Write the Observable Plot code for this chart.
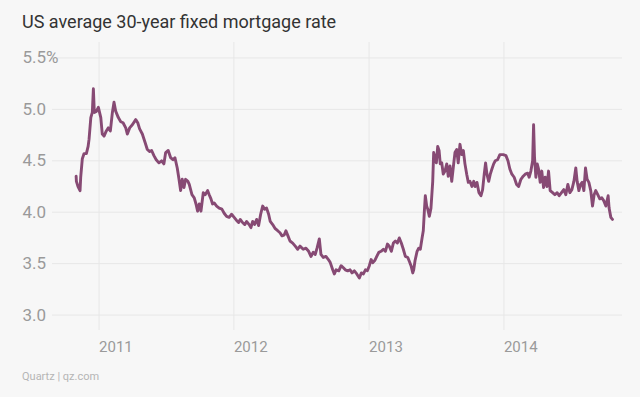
<!DOCTYPE html>
<html>
<head>
<meta charset="utf-8">
<script src="https://cdn.jsdelivr.net/npm/d3@7"></script>
<script src="https://cdn.jsdelivr.net/npm/@observablehq/plot@0.6"></script>
<style>
  html, body { margin: 0; padding: 0; background: #f7f7f7; }
  body { width: 640px; height: 397px; overflow: hidden; font-family: Roboto, "Noto Sans", sans-serif; }
  #title { height: 37px; padding: 3px 0 0 22px; line-height: 37px; font-size: 18px; color: #333; }
  #caption { height: 34px; line-height: 34px; padding-left: 22px; font-size: 11px; color: #b5b5b5; }
  #chart svg { display: block; }
</style>
</head>
<body>
<div id="title">US average 30-year fixed mortgage rate</div>
<div id="chart"></div>
<div id="caption">Quartz | qz.com</div>
<script>
// Time as decimal years
const times = [
  2010.830, 2010.832, 2010.844, 2010.859, 2010.864, 2010.876, 2010.889, 2010.906, 2010.919, 2010.926,
  2010.939, 2010.950, 2010.958, 2010.965, 2010.980, 2010.995, 2011.013, 2011.024, 2011.037, 2011.054,
  2011.069, 2011.084, 2011.099, 2011.111, 2011.124, 2011.143, 2011.161, 2011.178, 2011.198, 2011.210,
  2011.227, 2011.247, 2011.272, 2011.287, 2011.301, 2011.321, 2011.341, 2011.358, 2011.376, 2011.390,
  2011.407, 2011.424, 2011.444, 2011.464, 2011.481, 2011.494, 2011.513, 2011.531, 2011.548, 2011.563,
  2011.580, 2011.593, 2011.605, 2011.617, 2011.630, 2011.642, 2011.659, 2011.669, 2011.689, 2011.706,
  2011.719, 2011.731, 2011.743, 2011.756, 2011.773, 2011.787, 2011.805, 2011.817, 2011.830, 2011.842,
  2011.854, 2011.872, 2011.891, 2011.911, 2011.928, 2011.946, 2011.965, 2011.983, 2012.002, 2012.020,
  2012.035, 2012.047, 2012.064, 2012.081, 2012.094, 2012.113, 2012.126, 2012.139, 2012.153, 2012.168,
  2012.183, 2012.198, 2012.213, 2012.227, 2012.242, 2012.257, 2012.269, 2012.287, 2012.306, 2012.324,
  2012.341, 2012.356, 2012.373, 2012.385, 2012.400, 2012.415, 2012.435, 2012.454, 2012.472, 2012.489,
  2012.513, 2012.533, 2012.553, 2012.570, 2012.587, 2012.602, 2012.615, 2012.632, 2012.644, 2012.661,
  2012.681, 2012.699, 2012.713, 2012.731, 2012.743, 2012.756, 2012.776, 2012.793, 2012.810, 2012.824,
  2012.842, 2012.859, 2012.874, 2012.891, 2012.909, 2012.928, 2012.943, 2012.958, 2012.973, 2012.987,
  2013.002, 2013.015, 2013.027, 2013.042, 2013.057, 2013.072, 2013.089, 2013.106, 2013.121, 2013.136,
  2013.150, 2013.165, 2013.180, 2013.195, 2013.210, 2013.224, 2013.239, 2013.254, 2013.269, 2013.287,
  2013.299, 2013.311, 2013.324, 2013.331, 2013.341, 2013.356, 2013.368, 2013.380, 2013.393, 2013.402,
  2013.410, 2013.417, 2013.427, 2013.435, 2013.447, 2013.459, 2013.472, 2013.479, 2013.489, 2013.499,
  2013.509, 2013.519, 2013.528, 2013.539, 2013.550, 2013.563, 2013.576, 2013.587, 2013.600, 2013.613,
  2013.624, 2013.637, 2013.650, 2013.661, 2013.674, 2013.687, 2013.699, 2013.711, 2013.724, 2013.736,
  2013.748, 2013.763, 2013.776, 2013.787, 2013.800, 2013.815, 2013.830, 2013.842, 2013.854, 2013.864,
  2013.874, 2013.887, 2013.899, 2013.911, 2013.924, 2013.936, 2013.953, 2013.970, 2013.995, 2014.015,
  2014.030, 2014.044, 2014.059, 2014.076, 2014.094, 2014.109, 2014.126, 2014.143, 2014.158, 2014.176,
  2014.187, 2014.200, 2014.213, 2014.220, 2014.227, 2014.237, 2014.247, 2014.257, 2014.269, 2014.281,
  2014.294, 2014.306, 2014.319, 2014.331, 2014.343, 2014.361, 2014.378, 2014.395, 2014.410, 2014.427,
  2014.444, 2014.459, 2014.474, 2014.489, 2014.504, 2014.519, 2014.533, 2014.543, 2014.556, 2014.568,
  2014.580, 2014.593, 2014.605, 2014.617, 2014.630, 2014.644, 2014.657, 2014.669, 2014.681, 2014.696,
  2014.711, 2014.726, 2014.741, 2014.756, 2014.773, 2014.780, 2014.793, 2014.805
];
// Rate (%) at each time
const rates = [
  4.35, 4.30, 4.25, 4.21, 4.34, 4.52, 4.57, 4.57, 4.64, 4.71,
  4.92, 4.97, 5.20, 4.97, 4.98, 5.02, 4.92, 4.76, 4.74, 4.79,
  4.82, 4.79, 4.97, 5.07, 4.98, 4.92, 4.88, 4.87, 4.82, 4.76,
  4.82, 4.85, 4.90, 4.87, 4.81, 4.76, 4.68, 4.61, 4.59, 4.60,
  4.55, 4.51, 4.48, 4.50, 4.47, 4.58, 4.60, 4.53, 4.51, 4.53,
  4.43, 4.32, 4.21, 4.32, 4.24, 4.32, 4.30, 4.27, 4.17, 4.14,
  4.08, 4.01, 4.08, 4.01, 4.19, 4.17, 4.21, 4.17, 4.13, 4.08,
  4.09, 4.06, 4.04, 4.03, 3.99, 3.96, 3.95, 3.98, 3.95, 3.92,
  3.90, 3.93, 3.90, 3.88, 3.91, 3.88, 3.85, 3.91, 3.88, 3.93,
  3.87, 3.98, 4.06, 4.03, 4.04, 3.98, 3.91, 3.88, 3.84, 3.82,
  3.80, 3.77, 3.78, 3.82, 3.77, 3.72, 3.70, 3.67, 3.64, 3.67,
  3.64, 3.65, 3.62, 3.57, 3.61, 3.59, 3.65, 3.74, 3.59, 3.56,
  3.57, 3.54, 3.51, 3.44, 3.40, 3.44, 3.43, 3.48, 3.46, 3.44,
  3.43, 3.44, 3.41, 3.43, 3.40, 3.36, 3.41, 3.40, 3.44, 3.43,
  3.48, 3.54, 3.51, 3.53, 3.57, 3.61, 3.62, 3.64, 3.62, 3.69,
  3.67, 3.62, 3.70, 3.72, 3.70, 3.75, 3.70, 3.64, 3.57, 3.56,
  3.52, 3.48, 3.41, 3.44, 3.53, 3.62, 3.65, 3.64, 3.75, 3.82,
  4.01, 4.16, 4.06, 4.03, 3.96, 4.04, 4.30, 4.58, 4.53, 4.48,
  4.64, 4.60, 4.47, 4.48, 4.37, 4.40, 4.47, 4.35, 4.45, 4.30,
  4.43, 4.58, 4.61, 4.48, 4.66, 4.56, 4.60, 4.47, 4.37, 4.29,
  4.30, 4.25, 4.30, 4.25, 4.29, 4.19, 4.16, 4.22, 4.37, 4.48,
  4.37, 4.30, 4.37, 4.42, 4.47, 4.50, 4.51, 4.56, 4.56, 4.55,
  4.50, 4.42, 4.37, 4.34, 4.27, 4.25, 4.32, 4.35, 4.37, 4.38,
  4.34, 4.40, 4.50, 4.85, 4.53, 4.34, 4.47, 4.42, 4.29, 4.40,
  4.24, 4.34, 4.25, 4.40, 4.21, 4.19, 4.17, 4.19, 4.16, 4.19,
  4.22, 4.17, 4.27, 4.19, 4.22, 4.30, 4.43, 4.30, 4.21, 4.27,
  4.29, 4.21, 4.43, 4.32, 4.29, 4.21, 4.06, 4.17, 4.21, 4.17,
  4.13, 4.14, 4.11, 4.06, 4.16, 4.04, 3.95, 3.93
];
const yTicks = [3.0, 3.5, 4.0, 4.5, 5.0, 5.5];
const xDomain = ["2010-08-28", "2014-11-18"];
const yDomain = [2.85, 5.65];

function decimalYearToDate(t) {
  const y = Math.floor(t);
  const a = Date.UTC(y, 0, 1), b = Date.UTC(y + 1, 0, 1);
  return new Date(a + (t - y) * (b - a));
}
const data = times.map((t, i) => ({date: decimalYearToDate(t), rate: rates[i]}));

const chart = Plot.plot({
  width: 640,
  height: 320,
  marginLeft: 52,
  marginRight: 18,
  marginTop: 2,
  marginBottom: 30,
  style: {background: "transparent", fontFamily: "Roboto, sans-serif", overflow: "visible"},
  x: {type: "utc", domain: xDomain.map(d => new Date(d)), label: null},
  y: {domain: yDomain, label: null},
  marks: [
    Plot.gridX({ticks: d3.utcYear.every(1), stroke: "#e7e7e7", strokeOpacity: 1}),
    Plot.gridY(yTicks, {stroke: "#e7e7e7", strokeOpacity: 1}),
    Plot.line(data, {x: "date", y: "rate", stroke: "#874a74", strokeWidth: 2.9, strokeLinejoin: "round"}),
    Plot.axisY(yTicks, {
      label: null,
      tickSize: 0, tickPadding: 30, textAnchor: "start", fontSize: 17, fill: "#9a9a9a",
      tickFormat: d => d === 5.5 ? "5.5%" : d.toFixed(1),
      stroke: "#f7f7f7", strokeWidth: 6, paintOrder: "stroke"
    }),
    Plot.axisX({
      label: null,
      ticks: d3.utcYear.every(1), tickFormat: d3.utcFormat("%Y"),
      tickSize: 0, tickPadding: 11, textAnchor: "start", fontSize: 15, fill: "#9a9a9a"
    })
  ]
});
document.getElementById("chart").appendChild(chart);
</script>
</body>
</html>
